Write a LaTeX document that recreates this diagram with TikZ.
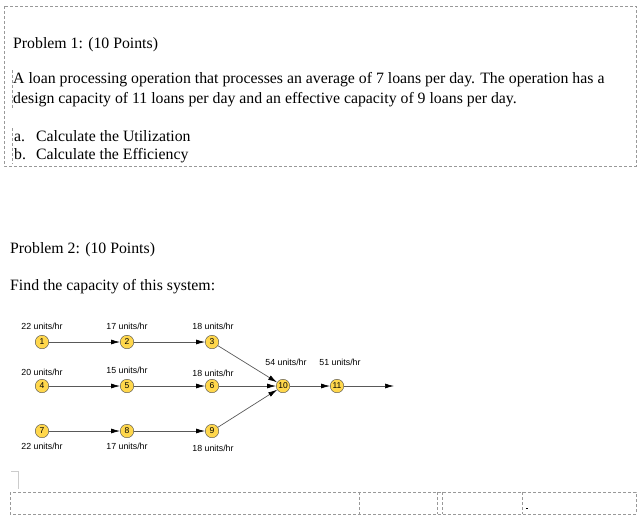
\documentclass[tikz,border=0pt]{standalone}
\usepackage{fontspec}
\setmainfont{Liberation Serif}
\newfontfamily\diag{Liberation Sans}
\usetikzlibrary{arrows.meta}
\begin{document}
\begin{tikzpicture}[x=1pt,y=-1pt,
  frame/.style={draw=gray!80,densely dashed,line width=0.6pt},
  txt/.style={anchor=west,inner sep=0pt,font=\fontsize{15.8}{18}\selectfont},
  st/.style={circle,draw=black!70,fill=orange!45!yellow!70,minimum size=13.5pt,inner sep=0pt,font=\diag\fontsize{8.5}{9}\selectfont},
  lb/.style={font=\diag\fontsize{8.8}{10}\selectfont,inner sep=0pt},
  ar/.style={draw=black!65,line width=0.7pt,-{Latex[length=9pt,width=5pt,black]}}]
\useasboundingbox (0,0) rectangle (639,522);
% top box
\draw[frame] (4,6) rectangle (636,166);
\draw[frame] (12,70) -- (12,108);
\draw[frame] (12,128) -- (12,164);
\node[txt] (p1) at (13,45) {Problem 1: (10 Points)};
\node[txt] (l1) at (13,80) {A loan processing operation that processes an average of 7 loans per day. The operation has a};
\node[txt] (l2) at (13,100) {design capacity of 11 loans per day and an effective capacity of 9 loans per day.};
\node[txt] (a) at (14,136) {a.\hspace{11pt}Calculate the Utilization};
\node[txt] (b) at (14,156) {b.\hspace{10pt}Calculate the Efficiency};
\node[txt] (p2) at (10,250) {Problem 2: (10 Points)};
\node[txt] (f) at (10,287) {Find the capacity of this system:};
% diagram
\node[st] (n1) at (42,342) {1};
\node[st] (n2) at (127,342) {2};
\node[st] (n3) at (212,342) {3};
\node[st] (n4) at (42,386) {4};
\node[st] (n5) at (127,386) {5};
\node[st] (n6) at (212,386) {6};
\node[st] (n7) at (42,431) {7};
\node[st] (n8) at (127,431) {8};
\node[st] (n9) at (212,431) {9};
\node[st] (n10) at (283,386) {10};
\node[st] (n11) at (337,386) {11};
\coordinate (out) at (394,386);
\foreach \a/\b in {n1/n2,n2/n3,n4/n5,n5/n6,n7/n8,n8/n9,n3/n10,n6/n10,n9/n10,n10/n11,n11/out}
  \draw[ar] (\a) -- (\b);
\node[lb] (t1) at (42,326) {22 units/hr};
\node[lb] (t2) at (127,326) {17 units/hr};
\node[lb] (t3) at (213,326) {18 units/hr};
\node[lb] (t4) at (42,372) {20 units/hr};
\node[lb] (t5) at (127,370) {15 units/hr};
\node[lb] (t6) at (213,373) {18 units/hr};
\node[lb] (t7) at (42,446) {22 units/hr};
\node[lb] (t8) at (127,446) {17 units/hr};
\node[lb] (t9) at (213,448) {18 units/hr};
\node[lb] (t10) at (286,362) {54 units/hr};
\node[lb] (t11) at (340,362) {51 units/hr};
% bottom
\draw[draw=gray!40,line width=0.8pt] (11,471) -- (18,471) -- (18,489);
\draw[frame] (10,492) rectangle (636,514);
\draw[frame] (359,492) -- (359,514);
\draw[frame] (437,492) -- (437,514);
\draw[frame] (442,492) -- (442,514);
\draw[frame] (522,492) -- (522,514);
\fill (526,508) rectangle (528,509);
\end{tikzpicture}
\end{document}
